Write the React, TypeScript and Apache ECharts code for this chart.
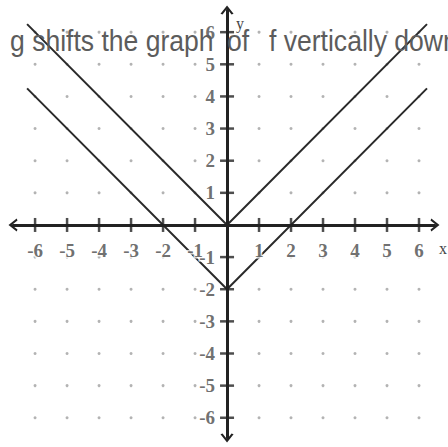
import React, { useEffect, useRef } from "react";
import * as echarts from "echarts";

const xTicks = [-6, -5, -4, -3, -2, -1, 1, 2, 3, 4, 5, 6];
const yTicks = [-6, -5, -4, -3, -2, -1, 1, 2, 3, 4, 5, 6];
const fX = [-6.25, 0, 6.25];
const fY = [6.25, 0, 6.25];
const gX = [-6.25, 0, 6.25];
const gY = [4.25, -2, 4.25];
const captionParts = ["g shifts the graph", "of", "f vertically down"];

const chevron = "path://M0,10 L8,0 L16,10 L13.5,11 L8,4 L2.5,11 Z";

export default function App() {
  const ref = useRef<HTMLDivElement>(null);
  useEffect(() => {
    if (!ref.current) return;
    const chart = echarts.init(ref.current, null, { renderer: "svg" });
    const dots: number[][] = [];
    xTicks.forEach((x) => yTicks.forEach((y) => dots.push([x, y])));
    const labelText = {
      fontFamily: '"Liberation Serif", serif',
      fontSize: 19,
      fontWeight: "bold",
      color: "#4a4a4a",
      textBorderColor: "#fff",
      textBorderWidth: 3,
    };
    const axisCommon = {
      type: "value",
      z: 10,
      splitLine: { show: false },
      axisTick: { show: false },
      axisLabel: { show: false },
      axisLine: {
        onZero: true,
        symbol: [chevron, chevron],
        symbolSize: [14, 9],
        lineStyle: { color: "#222", width: 3 },
      },
    };
    const captionX = [10, 227, 269];
    const captionStyle = {
      font: '29.5px "Liberation Sans"',
      fill: "#5c5c5c",
      align: "left",
      verticalAlign: "middle",
    };
    chart.setOption({
      animation: false,
      backgroundColor: "#fff",
      grid: { left: 13, width: 422, top: 10, height: 428, containLabel: false, outerBoundsMode: "none" },
      xAxis: { ...axisCommon, min: -6.69, max: 6.5 },
      yAxis: { ...axisCommon, min: -6.63, max: 6.69 },
      series: [
        {
          type: "scatter",
          data: dots,
          symbolSize: 3,
          itemStyle: { color: "#a0a0a0" },
          z: 1,
          silent: true,
        },
        {
          type: "line",
          data: fX.map((x, i) => [x, fY[i]]),
          symbol: "none",
          lineStyle: { color: "#2a2a2a", width: 2 },
          z: 3,
        },
        {
          type: "line",
          data: gX.map((x, i) => [x, gY[i]]),
          symbol: "none",
          lineStyle: { color: "#2a2a2a", width: 2 },
          z: 3,
        },
        {
          type: "scatter",
          data: xTicks.map((x) => [x, 0]),
          symbol: "rect",
          symbolSize: [2.5, 14],
          itemStyle: { color: "#222" },
          z: 11,
          label: {
            show: true,
            position: "bottom",
            distance: 9,
            formatter: (p: any) => String(p.value[0]),
            ...labelText,
          },
        },
        {
          type: "scatter",
          data: yTicks.map((y) => [0, y]),
          symbol: "rect",
          symbolSize: [14, 2.5],
          itemStyle: { color: "#222" },
          z: 11,
          label: {
            show: true,
            position: "left",
            distance: 5,
            formatter: (p: any) => String(p.value[1]),
            ...labelText,
          },
        },
      ],
      graphic: [
        {
          type: "text",
          x: 240,
          y: 23,
          z: 50,
          style: { text: "y", font: '16px "Liberation Serif"', fill: "#444", align: "center", verticalAlign: "middle" },
        },
        {
          type: "text",
          x: 443,
          y: 248,
          z: 50,
          style: { text: "x", font: '16px "Liberation Serif"', fill: "#444", align: "center", verticalAlign: "middle" },
        },
        ...captionParts.map((t, i) => ({
          type: "text",
          x: captionX[i],
          y: 41.5,
          scaleX: 0.9,
          z: 100,
          style: { ...captionStyle, text: t },
        })),
      ],
    });
    return () => chart.dispose();
  }, []);
  return <div ref={ref} style={{ position: "fixed", left: 0, top: 0, width: 448, height: 447 }} />;
}
